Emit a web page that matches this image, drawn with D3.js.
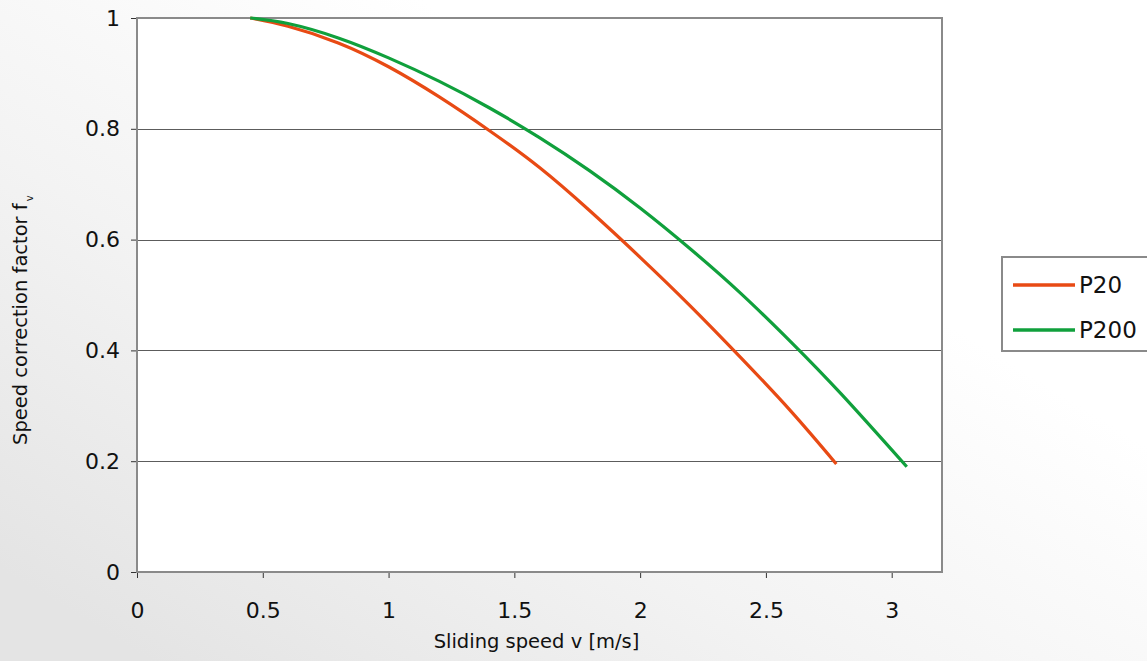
<!DOCTYPE html>
<html>
<head>
<meta charset="utf-8">
<script src="https://cdn.jsdelivr.net/npm/d3@7/dist/d3.min.js"></script>
<style>
  html, body { margin: 0; padding: 0; background: #fff; }
  svg { display: block; }
  text { font-family: "DejaVu Sans", sans-serif; fill: #111; }
</style>
</head>
<body>
<svg id="chart" width="1147" height="661"></svg>
<script>
// Speed correction factor versus sliding speed, two material grades
const seriesNames = ["P20", "P200"];
const seriesColors = ["#e84a14", "#10a03c"];

const speedP20  = [0.45, 0.6, 0.8, 1.0, 1.2, 1.4, 1.6, 1.8, 2.0, 2.2, 2.4, 2.6, 2.78];
const factorP20 = [1.0, 0.985, 0.955, 0.912, 0.858, 0.797, 0.73, 0.652, 0.568, 0.48, 0.387, 0.29, 0.195];

const speedP200  = [0.45, 0.6, 0.8, 1.0, 1.2, 1.4, 1.6, 1.8, 2.0, 2.2, 2.4, 2.6, 2.8, 3.06];
const factorP200 = [1.0, 0.99, 0.964, 0.928, 0.886, 0.838, 0.784, 0.724, 0.657, 0.583, 0.503, 0.415, 0.321, 0.19];

const xTicks = [0, 0.5, 1, 1.5, 2, 2.5, 3];
const xTickLabels = ["0", "0.5", "1", "1.5", "2", "2.5", "3"];
const yTicks = [0, 0.2, 0.4, 0.6, 0.8, 1];
const yTickLabels = ["0", "0.2", "0.4", "0.6", "0.8", "1"];

const xTitle = "Sliding speed v [m/s]";
const yTitle = "Speed correction factor f";
const yTitleSub = "v";

const W = 1147, H = 661;
const plot = { left: 137, top: 18, right: 942, bottom: 572 };

const svg = d3.select("#chart");

// soft grey page background, lighter towards the top
const defs = svg.append("defs");
const grad = defs.append("linearGradient")
  .attr("id", "bg").attr("gradientUnits", "userSpaceOnUse")
  .attr("x1", 150).attr("y1", H).attr("x2", 520).attr("y2", 60);
grad.append("stop").attr("offset", 0).attr("stop-color", "#e4e4e4");
grad.append("stop").attr("offset", 0.5).attr("stop-color", "#f3f3f3");
grad.append("stop").attr("offset", 1).attr("stop-color", "#ffffff");
svg.append("rect").attr("width", W).attr("height", H).attr("fill", "url(#bg)");

const x = d3.scaleLinear().domain([0, 3.2]).range([plot.left, plot.right]);
const y = d3.scaleLinear().domain([0, 1]).range([plot.bottom, plot.top]);

// plot area
svg.append("rect")
  .attr("x", plot.left).attr("y", plot.top)
  .attr("width", plot.right - plot.left).attr("height", plot.bottom - plot.top)
  .attr("fill", "#fff");

// horizontal gridlines
svg.append("g").selectAll("line")
  .data(yTicks.filter(v => v > 0 && v < 1))
  .join("line")
  .attr("x1", plot.left).attr("x2", plot.right)
  .attr("y1", d => Math.round(y(d)) + 0.5).attr("y2", d => Math.round(y(d)) + 0.5)
  .attr("stroke", "#5c5c5c").attr("stroke-width", 1);

// axes
const xAxis = d3.axisBottom(x)
  .tickValues(xTicks)
  .tickFormat((d, i) => xTickLabels[i])
  .tickSize(6).tickPadding(24);
const gx = svg.append("g").attr("transform", `translate(0,${plot.bottom})`).call(xAxis);
gx.select(".domain").remove();
gx.selectAll(".tick line").attr("stroke", "#333");
gx.selectAll(".tick text").style("font-size", "22px").attr("fill", "#111");

const yAxis = d3.axisLeft(y)
  .tickValues(yTicks)
  .tickFormat((d, i) => yTickLabels[i])
  .tickSize(6).tickPadding(11);
const gy = svg.append("g").attr("transform", `translate(${plot.left},0)`).call(yAxis);
gy.select(".domain").remove();
gy.selectAll(".tick line").attr("stroke", "#333");
gy.selectAll(".tick text").style("font-size", "22px").attr("fill", "#111");

// plot frame
svg.append("rect")
  .attr("x", plot.left).attr("y", plot.top)
  .attr("width", plot.right - plot.left).attr("height", plot.bottom - plot.top)
  .attr("fill", "none").attr("stroke", "#8a8a8a").attr("stroke-width", 2);

// curves
const line = d3.line()
  .x(d => x(d[0])).y(d => y(d[1]))
  .curve(d3.curveNatural);
const series = [
  d3.zip(speedP20, factorP20),
  d3.zip(speedP200, factorP200)
];
svg.append("g").selectAll("path")
  .data(series)
  .join("path")
  .attr("d", line)
  .attr("fill", "none")
  .attr("stroke", (d, i) => seriesColors[i])
  .attr("stroke-width", 3.2);

// axis titles
svg.append("text")
  .attr("x", (plot.left + plot.right) / 2 - 3).attr("y", 648)
  .attr("text-anchor", "middle")
  .style("font-size", "19.5px").attr("fill", "#222")
  .text(xTitle);

const yt = svg.append("text")
  .attr("transform", "translate(27,445) rotate(-90)")
  .attr("text-anchor", "start")
  .style("font-size", "19.5px").attr("fill", "#222");
yt.append("tspan").text(yTitle);
yt.append("tspan").attr("dx", 2).attr("dy", 6).style("font-size", "10px").text(yTitleSub);

// legend
const lg = svg.append("g");
lg.append("rect")
  .attr("x", 1002).attr("y", 257).attr("width", 160).attr("height", 94)
  .attr("fill", "#fff").attr("stroke", "#8a8a8a").attr("stroke-width", 2);
const items = lg.selectAll("g.item").data(seriesNames).join("g")
  .attr("class", "item")
  .attr("transform", (d, i) => `translate(0,${285 + i * 45})`);
items.append("line")
  .attr("x1", 1013).attr("x2", 1075).attr("y1", 0).attr("y2", 0)
  .attr("stroke", (d, i) => seriesColors[i]).attr("stroke-width", 3.6);
items.append("text")
  .attr("x", 1079).attr("y", 0).attr("dy", "0.36em")
  .style("font-size", "23px").attr("fill", "#111")
  .text(d => d);
</script>
</body>
</html>
